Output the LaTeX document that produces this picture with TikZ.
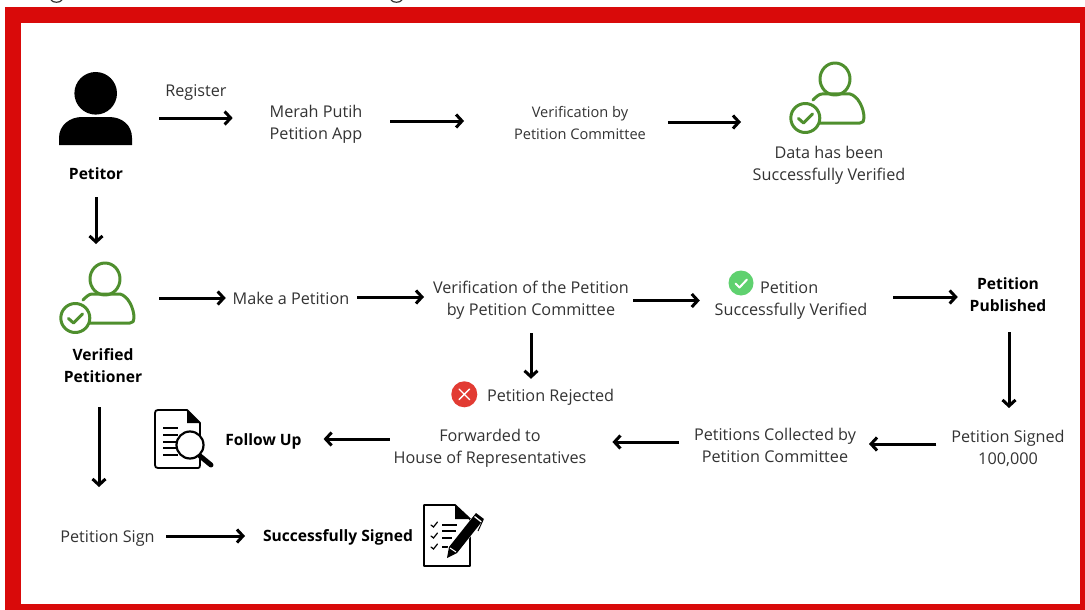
\documentclass[tikz,border=0pt]{standalone}
\usepackage{fontspec}
\setmainfont{Open Sans}
\usetikzlibrary{arrows.meta}
\definecolor{framered}{HTML}{D90A0A}
\definecolor{iconGreen}{HTML}{4F8F2E}
\definecolor{okGreen}{HTML}{5FD16F}
\definecolor{noRed}{HTML}{E23B33}
\definecolor{bodytext}{HTML}{333333}
\tikzset{
  txt/.style={inner sep=0pt,outer sep=0pt,align=center,text=bodytext,yshift=-2pt,font=\fontsize{16.2}{22}\selectfont},
  btxt/.style={inner sep=0pt,outer sep=0pt,align=center,text=black,font=\fontsize{15.6}{22}\selectfont\bfseries},
  iconbox/.style={inner sep=0pt,outer sep=0pt,draw=none,fill=none},
  arr/.style={line width=3pt,black,-{Straight Barb[length=6pt,width=13pt,line width=3pt]}},
  grn/.style={draw=iconGreen,line width=3pt,line cap=round,line join=round},
  blk/.style={draw=black,line width=1.8pt,line join=round,line cap=round},
}
\newcommand{\verifiedicon}{%
  \draw[grn] (65,29) ellipse [x radius=15,y radius=16];
  \draw[grn] (43,50) .. controls (46,47) and (49,44) .. (52,44) -- (80,44)
     .. controls (88,46) and (94,58) .. (94,68) .. controls (94,71) and (93,73) .. (90,73) -- (50,73);
  \draw[grn,fill=white] (35.3,68) circle (14.5);
  \draw[grn] (28.5,68.5) -- (33.5,73) -- (42.5,64);
}
\begin{document}
\begin{tikzpicture}[x=1pt,y=-1pt]
\useasboundingbox (0,0) rectangle (1085,610);
\fill[white] (0,0) rectangle (1085,610);
\fill[framered] (5,7) rectangle (1085,610);
\fill[white] (21,23) rectangle (1080,604);
% cropped descenders above the frame
\draw[bodytext,line width=1.2pt] (51,0) .. controls (53,3) and (60,3) .. (62,0);
\draw[bodytext,line width=1.2pt] (391,0) .. controls (393,3) and (400,3) .. (402,0);

% --- nodes
\node[iconbox,minimum width=73pt,minimum height=73pt] (petitorIcon) at (95.5,108.5) {};
\fill[black] (95.7,93.3) circle (21.3);
\fill[black] (59,145) -- (59,138) .. controls (59,125) and (70,117) .. (82,117) -- (109,117)
   .. controls (122,117) and (132,125) .. (132,138) -- (132,145) -- cycle;
\node[btxt,minimum width=56pt,minimum height=16pt] (petitor) at (96,174) {Petitor};
\node[txt] (register) at (196,91) {Register};
\node[txt,minimum width=92pt,minimum height=38pt] (app) at (316,122) {Merah Putih\\Petition App};
\node[txt,font=\fontsize{14.6}{22}\selectfont,minimum width=130pt,minimum height=38pt] (verif) at (580,120.5) {Verification by\\Petition Committee};
\node[iconbox,minimum width=74pt,minimum height=60pt] (okIconA) at (835,100) {};
\begin{scope}[shift={(770,50)}]\verifiedicon\end{scope}
\node[txt] (dataOk) at (829,163) {Data has been\\Successfully Verified};

\node[iconbox,minimum width=74pt,minimum height=76pt] (okIconB) at (96,300) {};
\begin{scope}[shift={(40,250)}]\verifiedicon\end{scope}
\node[btxt,minimum width=70pt,minimum height=38pt] (verified) at (103,366) {Verified\\Petitioner};
\node[txt,minimum width=114pt,minimum height=16pt] (make) at (291,296.5) {Make a Petition};
\node[txt,minimum width=198pt,minimum height=38pt] (verifPet) at (531,298) {Verification of the Petition\\by Petition Committee};
\node[circle,fill=okGreen,minimum size=25pt,inner sep=0pt] (okDot) at (741,283) {};
\draw[white,line width=2pt,line cap=round,line join=round] (735.5,283.5) -- (739.5,287.5) -- (747,279.5);
\node[txt,anchor=west] (okWord) at (760,285.5) {Petition};
\node[txt,minimum width=156pt,minimum height=16pt] (okLine) at (791,309) {Successfully Verified};
\node[btxt,minimum width=74pt,minimum height=38pt] (published) at (1008,295) {Petition\\Published};
\node[circle,fill=noRed,minimum size=26pt,inner sep=0pt] (noDot) at (464.3,394.3) {};
\draw[white,line width=1.3pt,line cap=round] (459,389) -- (469.6,399.6) (469.6,389) -- (459,399.6);
\node[txt,anchor=west] (rejected) at (487,395) {Petition Rejected};

\node[txt,minimum width=112pt,minimum height=38pt] (signed) at (1008,446) {Petition Signed\\100,000};
\node[txt,minimum width=164pt,minimum height=38pt] (collected) at (775,443) {Petitions Collected by\\Petition Committee};
\node[txt,minimum width=192pt,minimum height=38pt] (forwarded) at (490,446) {Forwarded to\\House of Representatives};
\node[btxt,yshift=-2pt,minimum width=75pt,minimum height=16pt] (follow) at (263.5,439) {Follow Up};

% follow-up icon
\node[iconbox,minimum width=60pt,minimum height=60pt] (docIcon) at (184,439) {};
\begin{scope}[shift={(140,400)}]
  \draw[blk] (47,10) -- (18,10) .. controls (16,10) and (15,11) .. (15,13) -- (15,65)
     .. controls (15,67) and (16,68) .. (18,68) -- (58,68) .. controls (59.5,68) and (60,67) .. (60,65) -- (60,23) -- cycle;
  \fill[black] (47,10) -- (60,23) -- (47,23) -- cycle;
  \foreach \yy/\xx in {28/38,35/38,42/38,48/38,55/38}{\draw[black,line width=1.4pt] (23,\yy) -- (\xx,\yy);}
  \draw[black,line width=2.2pt,fill=white] (50,45) circle (13.5);
  \draw[black,line width=5pt,line cap=round] (60,56) -- (71,65);
\end{scope}

\node[txt,minimum width=96pt,minimum height=16pt] (sign) at (107.5,536) {Petition Sign};
\node[btxt,yshift=-2pt,minimum width=150pt,minimum height=16pt] (signedOk) at (338,535) {Successfully Signed};
% signing icon
\node[iconbox,minimum width=60pt,minimum height=62pt] (signIcon) at (454,535) {};
\begin{scope}[shift={(410,490)}]
  \draw[blk] (45,15) -- (14,15) -- (14,76) -- (60,76) -- (60,29) -- cycle;
  \fill[black] (45,15) -- (60,29) -- (45,29) -- cycle;
  \foreach \yy in {35,46,57}{\draw[black,line width=1.2pt,line cap=round] (21,\yy) -- (23.5,\yy+2) -- (27.5,\yy-3);}
  \foreach \yy/\xx in {35/47,41/46,48/42,57/38}{\draw[black,line width=1.4pt] (32,\yy) -- (\xx,\yy);}
  \draw[white,line width=11pt] (42,61) -- (70,26);
  \fill[black] (37,68) -- (39,57) -- (66,23) -- (74,29) -- (47,63) -- cycle;
  \draw[white,line width=1.3pt] (64.5,26.5) -- (71.5,32);
  \draw[white,line width=1pt] (40,58) -- (46,62);
  \draw[black,line width=1pt] (73,30) -- (68,41);
\end{scope}

% --- connectors
\draw[arr] ([shift={(27,9.5)}]petitorIcon.east) -- ([shift={(-37,-6)}]app.west);
\draw[arr] ([shift={(28,-3)}]app.east) -- ([shift={(-50,-1.5)}]verif.west);
\draw[arr] ([shift={(22,-0.5)}]verif.east) -- ([shift={(-57,22)}]okIconA.west);
\draw[arr] ([shift={(0,15)}]petitor.south) -- ([shift={(0,-18)}]okIconB.north);
\draw[arr] ([shift={(26,-2)}]okIconB.east) -- ([shift={(-7,-0.5)}]make.west);
\draw[arr] ([shift={(8,-1.5)}]make.east) -- ([shift={(-8,-3)}]verifPet.west);
\draw[arr] ([shift={(3,0.5)}]verifPet.east) -- ([shift={(-28.5,17.5)}]okDot.west);
\draw[arr] ([shift={(24,-14)}]okLine.east) -- ([shift={(-12,2)}]published.west);
\draw[arr] ([shift={(0,14)}]verifPet.south) -- ([shift={(66.7,-2.3)}]noDot.north);
\draw[arr] ([shift={(1,18)}]published.south) -- ([shift={(1,-21)}]signed.north);
\draw[arr] ([shift={(-15,-4)}]signed.west) -- ([shift={(12,-1)}]collected.east);
\draw[arr] ([shift={(-14,-3)}]collected.west) -- ([shift={(26,-6)}]forwarded.east);
\draw[arr] ([shift={(-4,-9)}]forwarded.west) -- ([shift={(22,-2)}]follow.east);
\draw[arr] ([shift={(-4,22)}]verified.south) -- ([shift={(-8.5,-43)}]sign.north);
\draw[arr] ([shift={(10.5,-2)}]sign.east) -- ([shift={(-18,-1)}]signedOk.west);
\end{tikzpicture}
\end{document}
